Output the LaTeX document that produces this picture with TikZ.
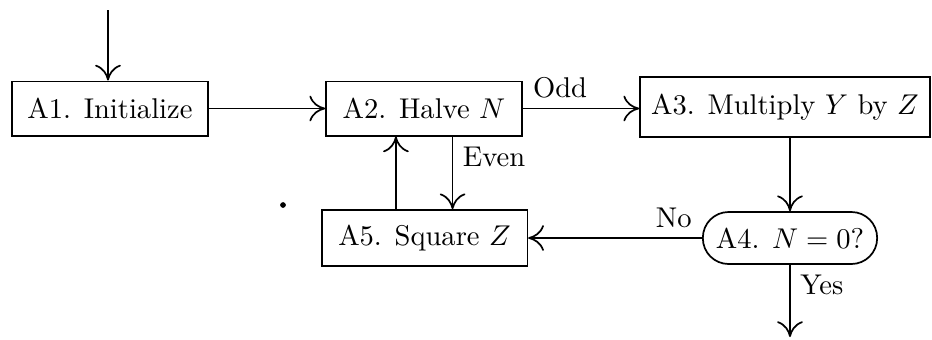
\documentclass[tikz,border=0pt]{standalone}
\usetikzlibrary{arrows.meta}
\begin{document}
\begin{tikzpicture}[x=0.35pt,y=-0.35pt,line width=0.6pt,
        >={To[length=5.5pt,width=9pt]},
        box/.style={draw,rectangle,minimum height=19pt,inner sep=0pt},
        test/.style={draw,rectangle,rounded corners=9pt,minimum width=61pt,minimum height=18.2pt}]
        \useasboundingbox (0,0) rectangle (932,339);
        %% steps
        \node[box,minimum width=68.6pt] (A1) at (110,108.5) {A1. Initialize};
        \node[box,minimum width=68.6pt] (A2) at (424,108.5) {A2. Halve $N$};
        \node[box,minimum width=101.5pt,minimum height=21pt] (A3) at (785,107) {A3. Multiply $Y$ by $Z$};
        \node[test] (A4) at (790,238) {A4. $N=0$?};
        \node[box,minimum width=72pt,minimum height=19.6pt] (A5) at (424.5,238) {A5. Square $Z$};
        %% entry and exit
        \coordinate (in) at (108,10);
        \coordinate (out) at (790,337);
        \draw[->] (in) -- (in |- A1.north);
        \draw[->] (A4.south) -- (out) node[pos=0,anchor=north west] {Yes};
        %% main line
        \draw[->] (A1.east) -- (A1.east -| A2.west);
        \draw[->] (A2.east) -- (A2.east -| A3.west) node[pos=0.32,anchor=south] {Odd};
        \draw[->] (A3.south -| A4.north) -- (A4.north);
        \draw[->] (A4.west) -- (A4.west -| A5.east) node[pos=0,anchor=south east] {No};
        %% loop between A2 and A5
        \draw[->] ([xshift=10pt]A2.south) -- ([xshift=10pt]A2.south |- A5.north) node[pos=0,anchor=north west] {Even};
        \draw[->] ([xshift=-10pt]A5.north) -- ([xshift=-10pt]A5.north |- A2.south);
        \fill (283,205) circle (1pt);
    \end{tikzpicture}
\end{document}
